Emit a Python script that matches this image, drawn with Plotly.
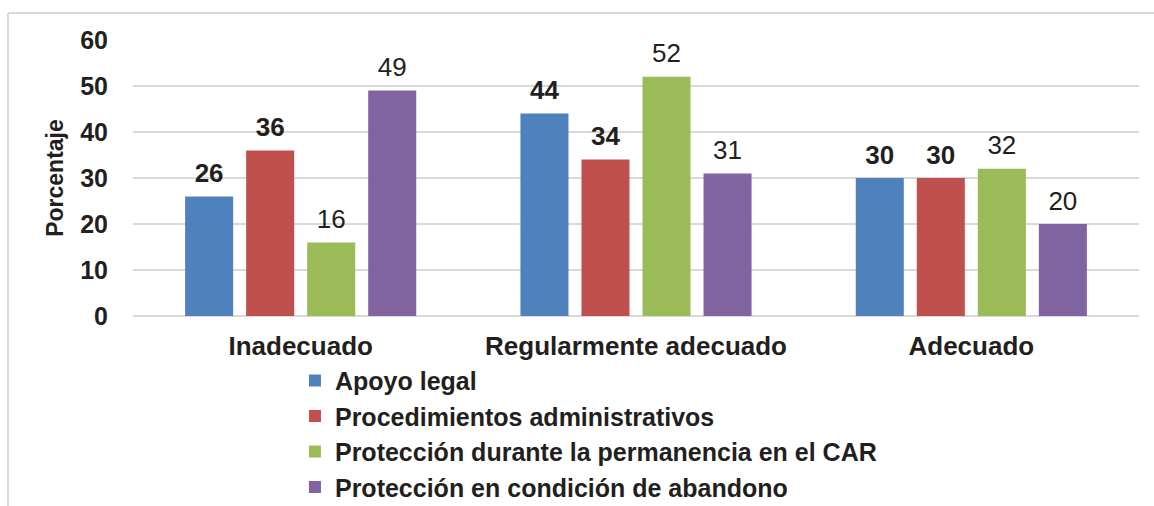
import plotly.graph_objects as go

# Datos del gráfico
categorias = ["Inadecuado", "Regularmente adecuado", "Adecuado"]
series = [
    "Apoyo legal",
    "Procedimientos administrativos",
    "Protección durante la permanencia en el CAR",
    "Protección en condición de abandono",
]
apoyo_legal = [26, 44, 30]
procedimientos = [36, 34, 30]
proteccion_car = [16, 52, 32]
proteccion_abandono = [49, 31, 20]
valores_y = [0, 10, 20, 30, 40, 50, 60]

colores = ["#4F81BD", "#C0504D", "#9BBB59", "#8064A2"]
pesos = ["bold", "bold", "normal", "normal"]
FUENTE = "Liberation Sans, Arial, sans-serif"
TEXTO = "#231f20"
HUECO = 0.272

fig = go.Figure()
datos = [apoyo_legal, procedimientos, proteccion_car, proteccion_abandono]
for nombre, valores, color in zip(series, datos, colores):
    fig.add_trace(
        go.Bar(
            name=nombre,
            x=categorias,
            y=valores,
            marker=dict(color=color, line=dict(width=0)),
            hoverinfo="skip",
        )
    )

# etiquetas de valor: puntos invisibles agrupados como las barras
for nombre, valores, peso in zip(series, datos, pesos):
    fig.add_trace(
        go.Scatter(
            x=categorias,
            y=valores,
            mode="markers+text",
            marker=dict(size=11, opacity=0),
            text=valores,
            textposition="top center",
            textfont=dict(family=FUENTE, size=26, color=TEXTO, weight=peso),
            showlegend=False,
            cliponaxis=False,
            hoverinfo="skip",
        )
    )

fig.update_layout(
    width=1154,
    height=506,
    barmode="group",
    bargap=HUECO,
    bargroupgap=0.213,
    scattermode="group",
    scattergap=HUECO,
    plot_bgcolor="white",
    paper_bgcolor="white",
    margin=dict(l=133, r=15, t=40, b=190, autoexpand=False),
    font=dict(family=FUENTE, color=TEXTO),
    legend=dict(
        x=0.161,
        y=-0.151,
        xanchor="left",
        yanchor="top",
        font=dict(size=25, weight="bold", color=TEXTO),
        bgcolor="rgba(0,0,0,0)",
        tracegroupgap=0,
    ),
    showlegend=True,
    shapes=[
        dict(type="line", xref="paper", yref="paper", x0=-0.1243, x1=1.05,
             y0=1.098, y1=1.098, line=dict(color="#d9d9d9", width=2)),
        dict(type="line", xref="paper", yref="paper", x0=-0.1243, x1=-0.1243,
             y0=1.098, y1=-0.75, line=dict(color="#d9d9d9", width=2)),
    ],
)

fig.update_xaxes(
    tickfont=dict(size=26, weight="bold", color=TEXTO),
    showgrid=False,
    showline=False,
    ticklabelstandoff=12,
)
fig.update_yaxes(
    range=[0, 60],
    tickvals=valores_y,
    tickfont=dict(size=25, weight="bold", color=TEXTO),
    showgrid=True,
    gridcolor="#d9d9d9",
    gridwidth=1.5,
    zeroline=True,
    zerolinecolor="#d9d9d9",
    zerolinewidth=2,
    ticklabelstandoff=24,
    title=dict(text="Porcentaje", font=dict(size=23, weight="bold", color=TEXTO), standoff=10),
)

# quitar el margen por defecto del <body> para que el gráfico llene la ventana
fig.write_html(
    "out.html",
    config={"displayModeBar": False},
    post_script="document.body.style.margin='0';",
)
